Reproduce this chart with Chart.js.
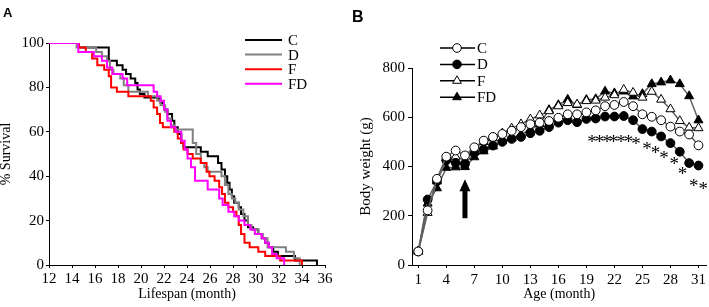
<!DOCTYPE html>
<html><head><meta charset="utf-8">
<script src="https://cdn.jsdelivr.net/npm/chart.js@4.4.0/dist/chart.umd.min.js"></script>
<style>
html,body{margin:0;padding:0;background:#fff;}
#wrap{position:relative;width:709px;height:307px;overflow:hidden;background:#fff;}
canvas{position:absolute;top:0;}
.pl{position:absolute;font-family:'Liberation Sans',Arial,sans-serif;font-weight:bold;color:#000;line-height:1;}
</style></head><body>
<div id="wrap">
<canvas id="ca" width="345" height="307" style="left:0"></canvas>
<canvas id="cb" width="359" height="307" style="left:350px"></canvas>
<div class="pl" style="left:3px;top:6px;font-size:13px">A</div>
<div class="pl" style="left:352px;top:9px;font-size:16px">B</div>
</div>
<script>
// ---------- Panel A: survival (Kaplan-Meier steps) ----------
const cTimes = [12,14.6,17.2,17.9,18.4,18.7,19.1,19.5,19.7,19.9,20.3,21.4,21.7,22.0,22.3,22.7,22.9,23.2,23.5,23.7,25.2,25.8,26.7,27.0,27.3,27.5,27.7,27.9,28.1,28.5,28.7,29.0,29.3,29.75,30.2,30.5,30.8,31.1,31.5,31.9,33.4,35.3];
const cSurv  = [100,98,92,90,88,86,84,82,79,77,75.5,75,73,70,68,65,62,59,55,53,51,49,46,43,40,37,34,31,28,26,23,20,17,16,14,12,10,8,6,4,2,0];
const dTimes = [12,14.4,16.1,16.6,17.05,17.3,17.6,18.2,18.5,18.9,20.6,21.4,21.7,22.1,22.3,22.6,22.9,24.5,24.8,25.2,25.5,25.8,27.0,27.3,27.6,27.9,28.2,28.5,28.9,29.3,29.6,30.2,30.6,31.0,32.6,33.3,33.8];
const dSurv  = [100,98,96,94,92,88,86,84,81,78,76,74,72,69,66,63,61,55,50,46,44,42,40,36,32,30,28,25,22,18,16,14,12,8,6,3,0];
const fTimes = [12,14.6,15.2,15.75,16.2,16.8,17.2,17.4,17.9,18.9,20.85,21.1,21.4,21.65,21.9,22.9,23.2,23.5,23.7,24.05,24.5,25.2,25.7,25.95,26.4,26.8,27.05,27.3,27.6,28.0,28.3,28.5,28.7,29.0,29.45,30.2,30.8,32.1,34.0];
const fSurv  = [100,98,96,93,90,88,85,80,78,76,74,71,68,64,62,60,57,55,52,50,48,46,42,40,38,35,32,28,26,24,22,18,14,10,8,6,4,2,0];
const fdTimes = [12,14.55,15.9,16.6,17.05,17.5,18.4,18.8,21.1,21.4,21.7,22.0,22.3,22.6,23.0,23.5,23.8,24.05,24.35,24.7,25.8,26.8,27.1,27.6,28.1,28.5,29.0,29.5,29.9,30.5,30.8,31.1,31.4,31.8,32.45];
const fdSurv  = [100,96,94,92,89,86,84,81,78,76,74,70,65,62,60,56,52,48,44,38,34,30,27,24,22,20,18,16,14,12,10,8,5,3,0];
const groupLabels = ['C','D','F','FD'];

// ---------- Panel B: body weight ----------
const ageMonths = [1,2,3,4,5,6,7,8,9,10,11,12,13,14,15,16,17,18,19,20,21,22,23,24,25,26,27,28,29,30,31];
const bwC  = [55,222,350,440,465,445,478,505,520,532,545,560,572,578,585,598,612,612,620,628,645,650,662,645,612,602,588,562,542,530,486];
const bwD  = [55,266,340,425,415,410,455,470,485,500,512,520,535,545,560,578,588,580,593,595,603,603,605,588,552,542,522,495,460,414,404];
const bwF  = [55,212,340,435,440,425,472,500,515,535,555,572,592,608,625,645,658,652,666,668,680,690,712,700,680,704,672,633,585,558,556];
const bwFD = [55,250,312,395,397,398,438,462,482,505,515,530,550,572,630,650,672,650,671,674,705,698,705,685,695,735,742,750,735,686,588];
const ageTicks = [1,4,7,10,13,16,19,22,25,28,31];
const starAge    = [19.6,20.4,21.2,21.9,22.7,23.5,24.3,25.5,26.4,27.3,28.4,29.3,30.5,31.5];
const starWeight = [512,512,512,512,512,512,505,483,468,447,423,380,332,321];
const arrowAge = 6, arrowFrom = 190, arrowTo = 348;

Chart.defaults.font.family = "'Liberation Serif','Times New Roman',serif";
Chart.defaults.font.size = 15;
Chart.defaults.color = '#000';

function pts(t, s){ return t.map((v,i)=>({x:v, y:s[i]})); }

const survColors = ['#000000','#808080','#ff0000','#ff00ff'];
const survData = [[cTimes,cSurv],[dTimes,dSurv],[fTimes,fSurv],[fdTimes,fdSurv]];

const legendA = {id:'legendA', afterDraw(chart){
  const ctx = chart.ctx; ctx.save();
  chart.data.datasets.forEach((ds,i)=>{
    const y = 40 + i*14.6;
    ctx.strokeStyle = ds.borderColor; ctx.lineWidth = 2;
    ctx.beginPath(); ctx.moveTo(245,y); ctx.lineTo(282,y); ctx.stroke();
    ctx.fillStyle = '#000'; ctx.font = "15px 'Liberation Serif'";
    ctx.textBaseline = 'middle'; ctx.textAlign = 'left';
    ctx.fillText(ds.label, 288, y+1);
  });
  ctx.restore();
}};

new Chart(document.getElementById('ca'), {
  type:'line',
  data:{datasets: survData.map((d,i)=>({label:groupLabels[i], data:pts(d[0],d[1]), borderColor:survColors[i], borderWidth:2, stepped:'before', pointRadius:0, fill:false, order:3-i}))},
  options:{
    responsive:false, animation:false, devicePixelRatio:1,
    layout:{autoPadding:false, padding:{left:0,right:20,top:43,bottom:0}},
    plugins:{legend:{display:false}, tooltip:{enabled:false}},
    scales:{
      x:{type:'linear', min:12, max:36, ticks:{stepSize:2, padding:2},
         grid:{display:true, drawOnChartArea:false, tickLength:3, color:'#000'},
         border:{color:'#000', width:1},
         title:{display:true, text:'Lifespan (month)', font:{size:14}, padding:{top:0,bottom:4}},
         afterFit:s=>{s.height=42;}},
      y:{type:'linear', min:0, max:100, ticks:{stepSize:20, padding:2},
         grid:{display:true, drawOnChartArea:false, tickLength:3, color:'#000'},
         border:{color:'#000', width:1},
         title:{display:true, text:'% Survival', font:{size:14}, padding:{top:-2,bottom:0}},
         afterFit:s=>{s.width=49;}}
    }
  },
  plugins:[legendA]
});

function drawMarker(ctx, style, x, y, r, fill){
  ctx.beginPath();
  if (style==='circle'){ ctx.arc(x,y,r,0,Math.PI*2); }
  else {
    let rad = 0; const T = Math.PI*2/3;
    ctx.moveTo(x+Math.sin(rad)*r, y-Math.cos(rad)*r); rad+=T;
    ctx.lineTo(x+Math.sin(rad)*r, y-Math.cos(rad)*r); rad+=T;
    ctx.lineTo(x+Math.sin(rad)*r, y-Math.cos(rad)*r);
    ctx.closePath();
  }
  ctx.fillStyle = fill; ctx.fill();
  ctx.strokeStyle = '#000'; ctx.lineWidth = 1; ctx.stroke();
}

const bwSeries = [
  {v:bwC, style:'circle', fill:'#ffffff'},
  {v:bwD, style:'circle', fill:'#000000'},
  {v:bwF, style:'triangle', fill:'#ffffff'},
  {v:bwFD, style:'triangle', fill:'#000000'}
];

const extrasB = {id:'extrasB', afterDraw(chart){
  const ctx = chart.ctx, xs = chart.scales.x, ys = chart.scales.y;
  ctx.save();
  // stars
  const fs = 19;
  ctx.font = fs+"px 'Liberation Serif'"; ctx.fillStyle='#000'; ctx.textAlign='center'; ctx.textBaseline='alphabetic';
  starAge.forEach((a,i)=>{ ctx.fillText('*', xs.getPixelForValue(a), ys.getPixelForValue(starWeight[i]) + 0.47*fs); });
  // arrow
  const ax = xs.getPixelForValue(arrowAge), y1 = ys.getPixelForValue(arrowFrom), y2 = ys.getPixelForValue(arrowTo);
  const head = 12;
  ctx.fillStyle = '#000';
  ctx.fillRect(ax-2.5, y2+head-1, 5, y1-(y2+head-1));
  ctx.beginPath(); ctx.moveTo(ax, y2); ctx.lineTo(ax+5.5, y2+head); ctx.lineTo(ax-5.5, y2+head); ctx.closePath(); ctx.fill();
  // legend
  chart.data.datasets.forEach((ds,i)=>{
    const y = 48 + i*16.4;
    ctx.strokeStyle='#000'; ctx.lineWidth=1.5;
    ctx.beginPath(); ctx.moveTo(90,y); ctx.lineTo(125,y); ctx.stroke();
    drawMarker(ctx, bwSeries[i].style, 107, y, bwSeries[i].style==='triangle'?5:4.3, bwSeries[i].fill);
    ctx.fillStyle='#000'; ctx.font="15px 'Liberation Serif'"; ctx.textAlign='left'; ctx.textBaseline='middle';
    ctx.fillText(ds.label, 127, y+1);
  });
  ctx.restore();
}};

new Chart(document.getElementById('cb'), {
  type:'line',
  data:{datasets: bwSeries.map((s,i)=>({label:groupLabels[i], data:ageMonths.map((m,j)=>({x:m,y:s.v[j]})),
    borderColor:'#606060', borderWidth:1.5, pointStyle:s.style, pointRadius:s.style==='triangle'?5.2:4.4,
    pointBackgroundColor:s.fill, pointBorderColor:'#000', pointBorderWidth:1, tension:0, fill:false}))},
  options:{
    responsive:false, animation:false, devicePixelRatio:1,
    layout:{autoPadding:false, padding:{left:0,right:1,top:68,bottom:0}},
    plugins:{legend:{display:false}, tooltip:{enabled:false}},
    scales:{
      x:{type:'linear', min:0.33, max:31.85,
         afterBuildTicks:s=>{ s.ticks = ageTicks.map(v=>({value:v})); },
         ticks:{padding:3, autoSkip:false, maxRotation:0},
         grid:{display:true, drawOnChartArea:false, tickLength:3, color:'#000'},
         border:{color:'#000', width:1},
         title:{display:true, text:'Age (month)', font:{size:14}, padding:{top:0,bottom:4}},
         afterFit:s=>{s.height=42;}},
      y:{type:'linear', min:0, max:800, ticks:{stepSize:200, padding:3},
         grid:{display:true, drawOnChartArea:false, tickLength:4, color:'#000'},
         border:{color:'#000', width:1},
         title:{display:true, text:'Body weight (g)', font:{size:15}, padding:{top:7,bottom:0}},
         afterFit:s=>{s.width=62;}}
    }
  },
  plugins:[extrasB]
});
</script>
</body></html>
